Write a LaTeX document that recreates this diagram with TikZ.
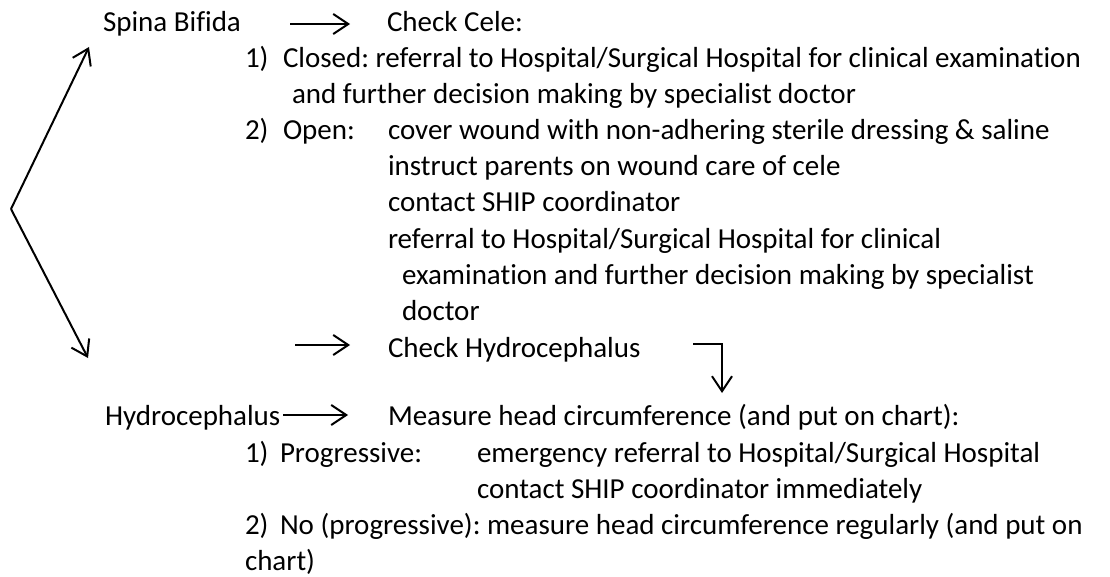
\documentclass[tikz,border=0pt]{standalone}
\usepackage{fontspec}
\setmainfont{Carlito}[Ligatures=NoCommon]
\usetikzlibrary{arrows.meta}
\frenchspacing
\begin{document}
\begin{tikzpicture}[x=1pt,y=-1pt,
  txt/.style={anchor=base west,inner sep=0pt,outer sep=0pt,font=\fontsize{29}{36}\selectfont\frenchspacing},
  arr/.style={line width=2pt,-{Straight Barb[length=15pt,width=20pt,line width=2pt]}}]
\useasboundingbox (0,0) rectangle (1110,577);
% top block
\node[txt] (sb) at (103,32) {Spina Bifida};
\node[txt] (cc) at (387,32) {Check Cele:};
\node[txt] (n1) at (245,68) {1)};
\node[txt] (closed) at (283,68) {Closed: referral to Hospital/Surgical Hospital for clinical examination};
\node[txt] (closed2) at (292,104) {and further decision making by specialist doctor};
\node[txt] (n2) at (245,140) {2)};
\node[txt] (open) at (283,140) {Open:};
\node[txt] (o1) at (388,140) {cover wound with non-adhering sterile dressing \& saline};
\node[txt] (o2) at (388,176) {instruct parents on wound care of cele};
\node[txt] (o3) at (388,212) {contact SHIP coordinator};
\node[txt] (o4) at (388,248) {referral to Hospital/Surgical Hospital for clinical};
\node[txt] (o5) at (402,284) {examination and further decision making by specialist};
\node[txt] (o6) at (402,320) {doctor};
\node[txt] (ch) at (388,357) {Check Hydrocephalus};
% bottom block
\node[txt] (hy) at (105,425) {Hydrocephalus};
\node[txt] (mh) at (388,425) {Measure head circumference (and put on chart):};
\node[txt] (m1) at (245,462) {1)};
\node[txt] (prog) at (280,462) {Progressive:};
\node[txt] (p1) at (477,462) {emergency referral to Hospital/Surgical Hospital};
\node[txt] (p2) at (477,498) {contact SHIP coordinator immediately};
\node[txt] (m2) at (245,534) {2)};
\node[txt] (np) at (280,534) {No (progressive): measure head circumference regularly (and put on};
\node[txt] (np2) at (245,570) {chart)};
% connector coordinates
\coordinate (v) at (11,209);
\coordinate (up) at (89,47);
\coordinate (dn) at (88,358);
\coordinate (a1s) at (290,24);
\coordinate (a1e) at (350,24);
\coordinate (a2s) at (295,345);
\coordinate (a2e) at (350,345);
\coordinate (a3s) at (283,415);
\coordinate (a3e) at (348,415);
\coordinate (es) at (693,344);
\coordinate (ec) at (722,344);
\coordinate (ee) at (722,393);
% connectors
\draw[arr] (v) -- (up);
\draw[arr] (v) -- (dn);
\draw[arr] (a1s) -- (a1e);
\draw[arr] (a2s) -- (a2e);
\draw[arr] (a3s) -- (a3e);
\draw[arr] (es) -- (ec) -- (ee);
\end{tikzpicture}
\end{document}
